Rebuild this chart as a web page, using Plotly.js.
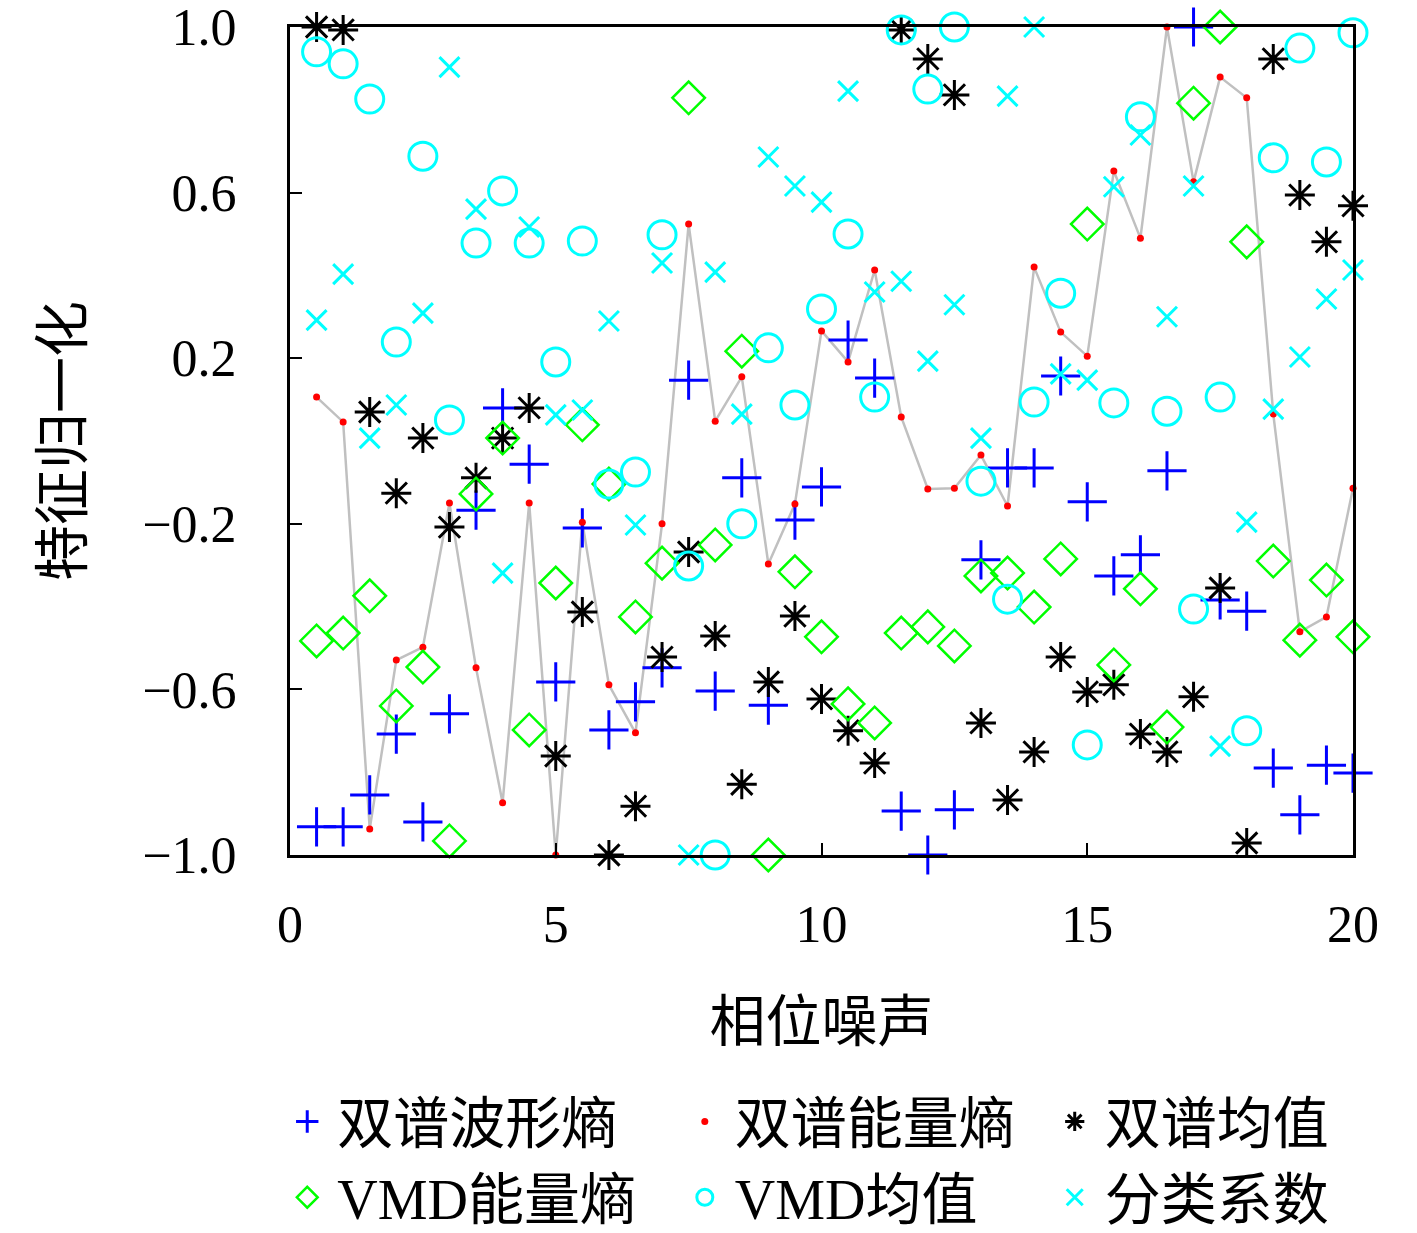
<!DOCTYPE html>
<html>
<head>
<meta charset="utf-8">
<script src="https://cdn.plot.ly/plotly-3.0.1.min.js"></script>
<style>body{margin:0;background:#fff}</style>
</head>
<body>
<div id="chart" style="width:1417px;height:1233px"></div>
<script>
// phase noise levels (x axis)
var phaseNoise = [0.5, 1, 1.5, 2, 2.5, 3, 3.5, 4, 4.5, 5, 5.5, 6, 6.5, 7, 7.5, 8, 8.5, 9, 9.5, 10,
  10.5, 11, 11.5, 12, 12.5, 13, 13.5, 14, 14.5, 15, 15.5, 16, 16.5, 17, 17.5, 18, 18.5, 19, 19.5, 20];

// normalised features
var waveEntropy = [-0.932, -0.932, -0.855, -0.708, -0.920, -0.659, -0.167, 0.080, -0.056, -0.582,
  -0.210, -0.698, -0.630, -0.548, 0.147, -0.604, -0.089, -0.638, -0.191, -0.111,
  0.244, 0.152, -0.894, -1.0, -0.891, -0.287, -0.065, -0.065, 0.157, -0.147,
  -0.326, -0.275, -0.072, 1.0, -0.384, -0.411, -0.790, -0.903, -0.783, -0.802];
var energyEntropy = [0.106, 0.046, -0.937, -0.529, -0.498, -0.150, -0.548, -0.874, -0.150, -1.0,
  -0.196, -0.589, -0.705, -0.200, 0.524, 0.048, 0.155, -0.297, -0.152, 0.266,
  0.191, 0.413, 0.058, -0.116, -0.114, -0.034, -0.157, 0.420, 0.263, 0.205,
  0.652, 0.490, 1.0, 0.626, 0.879, 0.829, 0.065, -0.461, -0.425, -0.114];
var bispecMean = [1.0, 0.993, 0.070, -0.126, 0.007, -0.208, -0.089, 0.007, 0.080, -0.761,
  -0.413, -1.0, -0.882, -0.522, -0.268, -0.471, -0.829, -0.582, -0.423, -0.623,
  -0.700, -0.778, 0.993, 0.923, 0.836, -0.681, -0.867, -0.751, -0.522, -0.606,
  -0.589, -0.708, -0.751, -0.618, -0.355, -0.971, 0.923, 0.594, 0.481, 0.568];
var vmdEnergy = [-0.483, -0.464, -0.374, -0.640, -0.546, -0.966, -0.128, 0.007, -0.698, -0.343,
  0.039, -0.104, -0.425, -0.295, 0.829, -0.251, 0.217, -1.0, -0.316, -0.473,
  -0.635, -0.681, -0.464, -0.449, -0.495, -0.326, -0.319, -0.401, -0.285, 0.524,
  -0.541, -0.357, -0.691, 0.816, 1.0, 0.481, -0.290, -0.481, -0.336, -0.473];
var vmdMean = [0.940, 0.911, 0.826, 0.239, 0.688, 0.051, 0.478, 0.604, 0.478, 0.191,
  0.483, -0.104, -0.075, 0.498, -0.302, -1.0, -0.200, 0.225, 0.087, 0.319,
  0.500, 0.106, 0.993, 0.850, 1.0, -0.097, -0.382, 0.094, 0.357, -0.734,
  0.092, 0.783, 0.072, -0.406, 0.106, -0.700, 0.684, 0.949, 0.674, 0.986];
var classCoef = [0.292, 0.403, 0.007, 0.087, 0.309, 0.903, 0.560, -0.319, 0.517, 0.063,
  0.075, 0.290, -0.203, 0.430, -1.0, 0.408, 0.065, 0.686, 0.616, 0.577,
  0.845, 0.360, 0.386, 0.193, 0.329, 0.007, 0.833, 1.0, 0.162, 0.147,
  0.614, 0.739, 0.300, 0.616, -0.737, -0.196, 0.077, 0.203, 0.343, 0.413];

var seriesNames = ['双谱波形熵', '双谱能量熵', '双谱均值', 'VMD能量熵', 'VMD均值', '分类系数'];
var xTicks = [0, 5, 10, 15, 20];
var yTicks = [-1.0, -0.6, -0.2, 0.2, 0.6, 1.0];

var serif = '"Liberation Serif", "Noto Sans CJK SC", serif';

function pts(y, name, legend, marker) {
  return {
    x: phaseNoise, y: y, name: name, legend: legend,
    type: 'scatter', mode: 'markers', cliponaxis: false,
    marker: marker
  };
}

var trace = [];
// NOTE: grey line for the energy entropy, kept out of the legend
trace.push({
  x: phaseNoise, y: energyEntropy, type: 'scatter', mode: 'lines',
  showlegend: false, hoverinfo: 'skip', cliponaxis: false,
  line: { color: '#c0c0c0', width: 2.5 }
});
// open symbols take their stroke colour from marker.color
trace.push(pts(waveEntropy, seriesNames[0], 'legend',
  { symbol: 'cross-thin-open', size: 28, color: '#0000ff', line: { width: 3 } }));
trace.push(pts(energyEntropy, seriesNames[1], 'legend2',
  { symbol: 'circle', size: 7, color: '#ff0000', line: { width: 0 } }));
trace.push(pts(bispecMean, seriesNames[2], 'legend3',
  { symbol: 'asterisk-open', size: 25, color: '#000000', line: { width: 3 } }));
trace.push(pts(vmdEnergy, seriesNames[3], 'legend',
  { symbol: 'diamond-open', size: 25, color: '#00ff00', line: { width: 2.5 } }));
trace.push(pts(vmdMean, seriesNames[4], 'legend2',
  { symbol: 'circle-open', size: 28, color: '#00ffff', line: { width: 3 } }));
trace.push(pts(classCoef, seriesNames[5], 'legend3',
  { symbol: 'x-thin-open', size: 20, color: '#00ffff', line: { width: 3 } }));

function legendAt(x) {
  return {
    x: x, y: -0.27, xanchor: 'left', yanchor: 'top',
    orientation: 'v', bgcolor: 'rgba(0,0,0,0)', borderwidth: 0,
    font: { family: serif, size: 56, color: '#000' },
    itemwidth: 50, tracegroupgap: 0
  };
}

var axisCommon = {
  showgrid: false, zeroline: false, showline: true, mirror: true,
  linecolor: '#000', linewidth: 3,
  ticks: 'inside', ticklen: 12, tickwidth: 2, tickcolor: '#000',
  tickfont: { family: serif, size: 52, color: '#000' },
  ticklabeloverflow: 'allow',
  fixedrange: true
};

var layout = {
  width: 1417, height: 1233,
  margin: { l: 290, r: 64, t: 27, b: 378, autoexpand: false },
  paper_bgcolor: '#ffffff', plot_bgcolor: '#ffffff',
  showlegend: true,
  xaxis: Object.assign({}, axisCommon, {
    range: [0, 20], tickvals: xTicks, ticklabelstandoff: 22,
    title: { text: '相位噪声', font: { family: serif, size: 56, color: '#000' }, standoff: 50 }
  }),
  yaxis: Object.assign({}, axisCommon, {
    range: [-1, 1], tickvals: yTicks, tickformat: '.1f', ticklabelstandoff: 40,
    title: { text: '特征归一化', font: { family: serif, size: 56, color: '#000' }, standoff: 42 }
  }),
  legend: legendAt(-0.012),
  legend2: legendAt(0.362),
  legend3: legendAt(0.71)
};

Plotly.newPlot('chart', trace, layout, { displayModeBar: false, staticPlot: true });
</script>
</body>
</html>
